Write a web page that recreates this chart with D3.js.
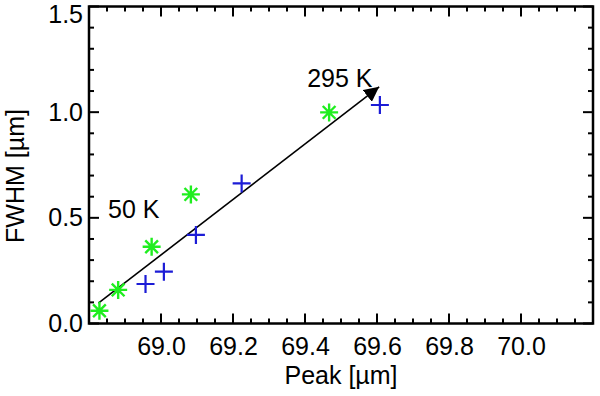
<!DOCTYPE html>
<html lang="en">
<head>
<meta charset="UTF-8">
<title>FWHM vs Peak</title>
<script src="https://d3js.org/d3.v7.min.js"></script>
<style>
    body { margin: 0; background: #fff; }
    text { font-family: "Liberation Sans", Arial, Helvetica, sans-serif; fill: #000; }
</style>
</head>
<body>
<svg id="chart" width="600" height="396"></svg>
<script>
// green asterisks
var greenPeak = [68.829, 68.881, 68.974, 69.083, 69.467];
var greenFwhm = [0.06, 0.159, 0.363, 0.611, 0.999];
// blue pluses
var bluePeak = [68.957, 69.008, 69.097, 69.224, 69.608];
var blueFwhm = [0.187, 0.245, 0.419, 0.663, 1.034];
// arrow from 50 K to 295 K
var arrowPeak = [68.826, 69.606];
var arrowFwhm = [0.096, 1.12];
var xTicks = [69.0, 69.2, 69.4, 69.6, 69.8, 70.0];
var yTicks = [0.0, 0.5, 1.0, 1.5];

(function () {
    var svg = d3.select("#chart");
    var pLeft = 89, pRight = 593, pTop = 6.5, pBottom = 323.5;

    var x = d3.scaleLinear().domain([68.8, 70.2]).range([pLeft, pRight]);
    var y = d3.scaleLinear().domain([0, 1.5]).range([pBottom, pTop]);

    var xMinor = d3.range(68.8, 70.2001, 0.05).map(function (v) { return +v.toFixed(2); });
    var yMinor = d3.range(0, 1.5001, 0.1).map(function (v) { return +v.toFixed(1); });

    function isMajor(v, arr) {
        return arr.some(function (t) { return Math.abs(t - v) < 1e-6; });
    }

    // tick labels through d3 axes, tick marks drawn below
    var g = svg.append("g");
    g.append("g").attr("transform", "translate(0," + pBottom + ")")
        .call(d3.axisBottom(x).tickValues(xTicks).tickFormat(d3.format(".1f")).tickSize(0).tickPadding(14));
    var yAx = g.append("g").attr("transform", "translate(" + pLeft + ",0)")
        .call(d3.axisLeft(y).tickValues(yTicks).tickFormat(d3.format(".1f")).tickSize(0).tickPadding(6));
    g.selectAll(".domain").remove();
    g.selectAll(".tick text")
        .attr("font-size", null).attr("font-family", null)
        .style("font-size", "25px").attr("fill", "#000");
    // top label sits just inside the page
    yAx.selectAll(".tick text").filter(function (d) { return d === 1.5; }).attr("dy", "0.32em").attr("y", 8);

    var ticks = svg.append("g").attr("stroke", "#000").attr("stroke-width", 2);
    xMinor.forEach(function (v) {
        var len = isMajor(v, xTicks) ? 10 : 5;
        ticks.append("line").attr("x1", x(v)).attr("x2", x(v)).attr("y1", pBottom).attr("y2", pBottom - len);
        ticks.append("line").attr("x1", x(v)).attr("x2", x(v)).attr("y1", pTop).attr("y2", pTop + len);
    });
    yMinor.forEach(function (v) {
        var len = isMajor(v, yTicks) ? 10 : 5;
        ticks.append("line").attr("y1", y(v)).attr("y2", y(v)).attr("x1", pLeft).attr("x2", pLeft + len);
        ticks.append("line").attr("y1", y(v)).attr("y2", y(v)).attr("x1", pRight).attr("x2", pRight - len);
    });

    svg.append("rect")
        .attr("x", pLeft).attr("y", pTop)
        .attr("width", pRight - pLeft).attr("height", pBottom - pTop)
        .attr("fill", "none").attr("stroke", "#000").attr("stroke-width", 2.5);

    // axis titles
    svg.append("text")
        .attr("x", (pLeft + pRight) / 2).attr("y", 384)
        .attr("text-anchor", "middle").style("font-size", "25px")
        .text("Peak [\u00b5m]");
    svg.append("text")
        .attr("transform", "translate(24,176) rotate(-90)")
        .attr("text-anchor", "middle").style("font-size", "25px")
        .text("FWHM [\u00b5m]");

    // arrow
    svg.append("defs").append("marker")
        .attr("id", "head").attr("viewBox", "0 0 10 10")
        .attr("refX", 10).attr("refY", 5)
        .attr("markerWidth", 15).attr("markerHeight", 15)
        .attr("markerUnits", "userSpaceOnUse")
        .attr("orient", "auto")
        .append("path").attr("d", "M0,0 L10,5 L0,10 Z").attr("fill", "#000");

    svg.append("line")
        .attr("x1", x(arrowPeak[0])).attr("y1", y(arrowFwhm[0]))
        .attr("x2", x(arrowPeak[1])).attr("y2", y(arrowFwhm[1]))
        .attr("stroke", "#000").attr("stroke-width", 1.6)
        .attr("marker-end", "url(#head)");

    svg.append("text").attr("x", x(68.853)).attr("y", y(0.5))
        .style("font-size", "25px").text("50 K");
    svg.append("text").attr("x", x(69.406)).attr("y", y(1.12))
        .style("font-size", "25px").text("295 K");

    // markers
    var r = 9;
    var green = svg.append("g").attr("stroke", "#1fee1f").attr("stroke-width", 2.4);
    greenPeak.forEach(function (p, i) {
        var cx = x(p), cy = y(greenFwhm[i]);
        var d = r * Math.SQRT1_2;
        green.append("path").attr("d",
            "M" + (cx - r) + "," + cy + "L" + (cx + r) + "," + cy +
            "M" + cx + "," + (cy - r) + "L" + cx + "," + (cy + r) +
            "M" + (cx - d) + "," + (cy - d) + "L" + (cx + d) + "," + (cy + d) +
            "M" + (cx - d) + "," + (cy + d) + "L" + (cx + d) + "," + (cy - d));
    });
    var blue = svg.append("g").attr("stroke", "#1c1cd6").attr("stroke-width", 2.2);
    bluePeak.forEach(function (p, i) {
        var cx = x(p), cy = y(blueFwhm[i]);
        blue.append("path").attr("d",
            "M" + (cx - r) + "," + cy + "L" + (cx + r) + "," + cy +
            "M" + cx + "," + (cy - r) + "L" + cx + "," + (cy + r));
    });
})();
</script>
</body>
</html>
